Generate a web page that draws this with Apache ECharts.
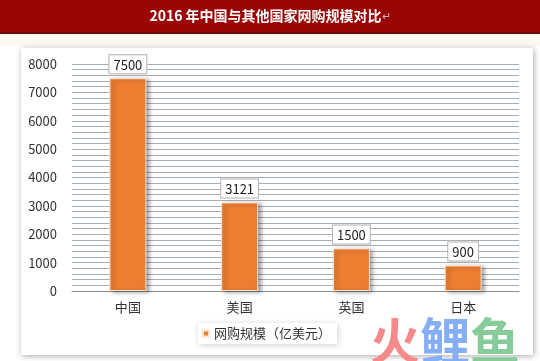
<!DOCTYPE html>
<html><head><meta charset="utf-8">
<script src="https://cdn.jsdelivr.net/npm/echarts@6/dist/echarts.min.js"></script>
<style>html,body{margin:0;padding:0;background:#fff}#c{width:540px;height:361px}</style>
</head><body><div id="c"></div>
<script>
var titleText = '2016 年中国与其他国家网购规模对比';
var categories = ['中国', '美国', '英国', '日本'];
var seriesName = '网购规模（亿美元）';
var values = [7500, 3121, 1500, 900];
var yMin = 0, yMax = 8000, yInterval = 1000;

var chart = echarts.init(document.getElementById('c'), null, {renderer: 'canvas'});
var font = '"Noto Sans CJK SC", "Noto Sans", sans-serif';
chart.setOption({
  animation: false,
  textStyle: {fontFamily: font},
  graphic: [
    {type: 'rect', shape: {x: 0, y: 0, width: 540, height: 33}, style: {fill: '#9a0505'}, z: 0},
    {type: 'rect', shape: {x: 0, y: 32, width: 540, height: 2}, style: {fill: '#6a0a0a'}, z: 0},
    {type: 'rect', shape: {x: 0, y: 34, width: 540, height: 12}, style: {fill: '#fdf8ef'}, z: 0},
    {type: 'rect', shape: {x: 21, y: 48, width: 512, height: 307},
      style: {fill: '#fff', shadowBlur: 6, shadowColor: 'rgba(0,0,0,0.35)', shadowOffsetX: 1, shadowOffsetY: 1}, z: 0},
    {type: 'text', left: 'center', top: 9, z: 10,
      style: {text: '{t|' + titleText + '}{m|↵}', rich: {
        t: {fill: '#fff', font: 'bold 14px ' + font},
        m: {fill: '#c9b0b0', font: '11px ' + font}
      }}},
    {type: 'text', left: 370, top: 316, z: 10,
      style: {text: '{a|火}{b|鲤}{c|鱼}', rich: {
        a: {fill: '#f58a8a', font: 'bold 50px ' + font, lineHeight: 50},
        b: {fill: '#86aef2', font: 'bold 50px ' + font, lineHeight: 50},
        c: {fill: '#86cc9b', font: 'bold 50px ' + font, lineHeight: 50}
      }}}
  ],
  grid: {left: 72, right: 21, top: 64, bottom: 70, show: true, backgroundColor: '#edf1f6', borderWidth: 0},
  legend: {
    data: [seriesName], left: 198, top: 323, icon: 'rect', itemWidth: 6, itemHeight: 6, itemGap: 4,
    padding: [4, 6, 4, 4],
    backgroundColor: '#fff', shadowBlur: 6, shadowColor: 'rgba(0,0,0,0.2)', shadowOffsetX: 1, shadowOffsetY: 1,
    textStyle: {fontSize: 13, color: '#333', fontFamily: font}
  },
  xAxis: {
    type: 'category', data: categories,
    axisLine: {lineStyle: {color: '#8c8c8c', width: 1}},
    axisTick: {show: false},
    axisLabel: {fontSize: 13, color: '#333', margin: 10}
  },
  yAxis: {
    type: 'value', min: yMin, max: yMax, interval: yInterval,
    axisLine: {show: false}, axisTick: {show: false},
    axisLabel: {fontSize: 13, color: '#333', margin: 15, formatter: function (v) { return String(v); }},
    splitLine: {lineStyle: {color: '#a6aeb8', width: 1}},
    minorTick: {show: false, splitNumber: 5},
    minorSplitLine: {show: true, lineStyle: {color: '#a6aeb8', width: 1}}
  },
  series: [{
    name: seriesName, type: 'bar', data: values, barWidth: 37,
    itemStyle: {color: '#ed7d31', borderColor: '#fbe3d0', borderWidth: 1,
      shadowBlur: 4, shadowColor: 'rgba(0,0,0,0.35)', shadowOffsetX: 3, shadowOffsetY: 1},
    label: {show: true, position: 'top', distance: 5, color: '#222', fontSize: 13,
      backgroundColor: '#fff', borderColor: '#b0b0b0', borderWidth: 1, padding: [3, 4, 2, 4]}
  }]
});
</script></body></html>
